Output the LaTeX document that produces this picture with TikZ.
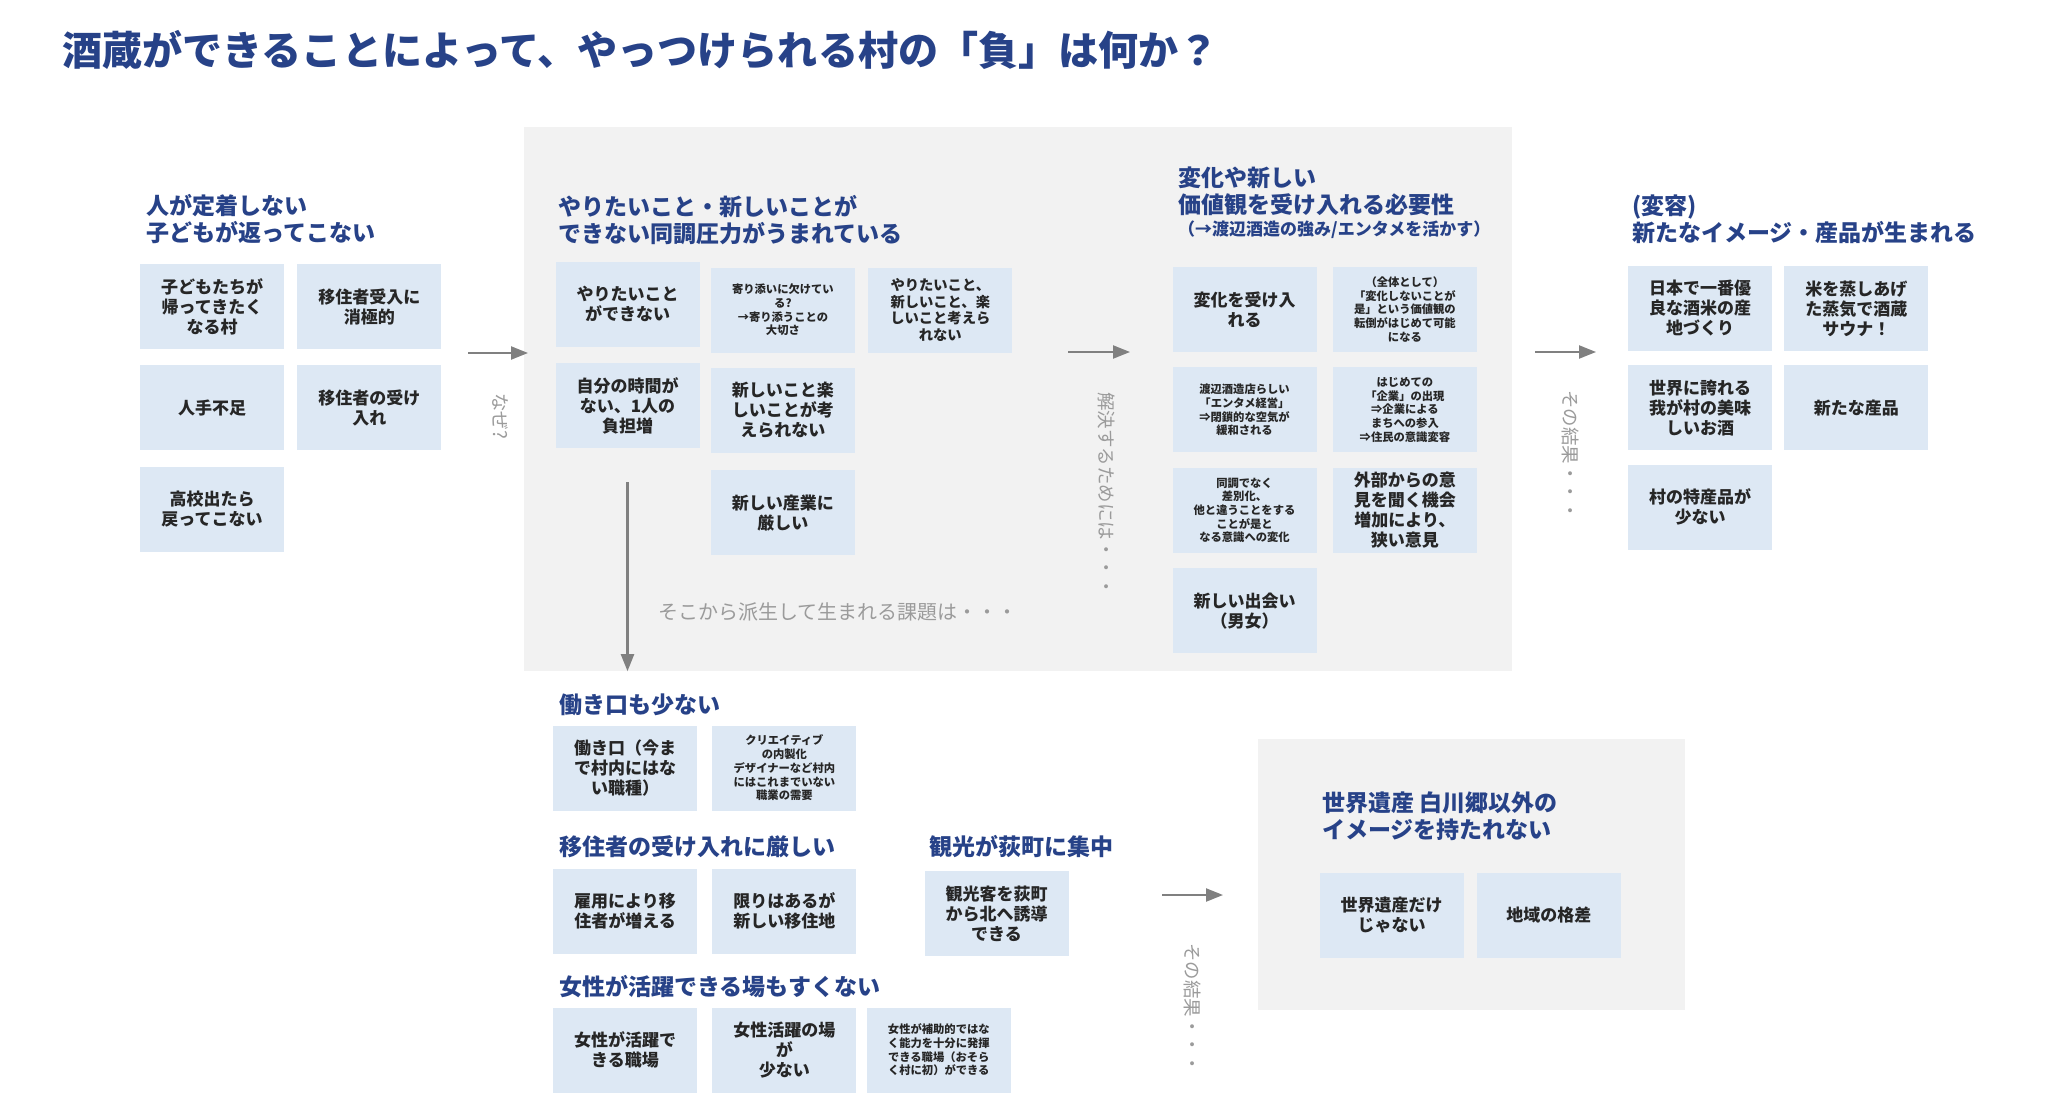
\documentclass[tikz,border=0pt]{standalone}
\usepackage{fontspec}
\setmainfont{Noto Sans CJK JP}
\usepackage{tikz}
\usetikzlibrary{positioning, arrows.meta, fit, calc}
\pgfdeclarelayer{background}
\pgfsetlayers{background,main}
\definecolor{headblue}{RGB}{39,66,136}
\definecolor{cardblue}{RGB}{221,232,244}
\definecolor{panelgray}{RGB}{242,242,242}
\definecolor{notegray}{RGB}{155,155,155}
\definecolor{flowgray}{RGB}{128,128,128}
\tikzset{
    card/.style={fill=cardblue, minimum width=144pt, minimum height=85pt, inner sep=0pt,
      align=center, text=black!85, font=\bfseries\fontsize{17pt}{20pt}\selectfont},
    cardsmall/.style={font=\bfseries\fontsize{11.3pt}{13.7pt}\selectfont},
    cardmid/.style={font=\bfseries\fontsize{14.3pt}{16.7pt}\selectfont},
    heading/.style={anchor=west, inner sep=0pt, align=left, text=headblue,
      font=\bfseries\fontsize{23pt}{27pt}\selectfont},
    sidenote/.style={anchor=west, inner sep=0pt, rotate=-90, text=notegray,
      font=\fontsize{18.5pt}{20pt}\selectfont},
    flow/.style={draw=flowgray, line width=2.2pt, -{Triangle[length=17pt, width=13pt]}},
    panel/.style={fill=panelgray, inner sep=0pt},
}

\begin{document}
\begin{tikzpicture}[x=1pt, y=-1pt]
    \useasboundingbox (0,0) rectangle (2048,1118);

    \node[anchor=west, inner sep=0pt, text=headblue, font=\bfseries\fontsize{40.1pt}{44pt}\selectfont]
      (title) at (62,50) {酒蔵ができることによって、やっつけられる村の「負」は何か？};

    \node[heading] (lhead) at (146,219) {人が定着しない\\子どもが返ってこない};
    \node[card] (l11) at (212,306.5) {子どもたちが\\帰ってきたく\\なる村};
    \node[card, right=13pt of l11] (l12) {移住者受入に\\消極的};
    \node[card, below=16pt of l11] (l21) {人手不足};
    \node[card, below=16pt of l12] (l22) {移住者の受け\\入れ};
    \node[card, below=16pt of l21] (l31) {高校出たら\\戻ってこない};

    \node[heading] (mhead) at (558,220) {やりたいこと・新しいことが\\できない同調圧力がうまれている};
    \node[card] (m11) at (627.5,304) {やりたいこと\\ができない};
    \node[card, cardsmall, right=11pt of m11, yshift=-6pt] (m12) {寄り添いに欠けてい\\る?\\→寄り添うことの\\大切さ};
    \node[card, cardmid, right=13pt of m12] (m13) {やりたいこと、\\新しいこと、楽\\しいこと考えら\\れない};
    \node[card, below=16pt of m11] (m21) {自分の時間が\\ない、1人の\\負担増};
    \node[card, below=15pt of m12] (m22) {新しいこと楽\\しいことが考\\えられない};
    \node[card, below=17pt of m22] (m32) {新しい産業に\\厳しい};
    \node[anchor=west, inner sep=0pt, text=notegray, font=\fontsize{20pt}{24pt}\selectfont]
      (mnote) at (658,612) {そこから派生して生まれる課題は・・・};

    \node[heading] (shead) at (1178,191.5) {変化や新しい\\価値観を受け入れる必要性};
    \node[heading, font=\bfseries\fontsize{17pt}{20pt}\selectfont] (ssub) at (1178,230) {（→渡辺酒造の強み/エンタメを活かす）};
    \node[card] (s11) at (1244.5,309.5) {変化を受け入\\れる};
    \node[card, cardsmall, right=16pt of s11] (s12) {（全体として）\\「変化しないことが\\是」という価値観の\\転倒がはじめて可能\\になる};
    \node[card, cardsmall, below=15pt of s11] (s21) {渡辺酒造店らしい\\「エンタメ経営」\\⇒閉鎖的な空気が\\緩和される};
    \node[card, cardsmall, below=15pt of s12] (s22) {はじめての\\「企業」の出現\\⇒企業による\\まちへの参入\\⇒住民の意識変容};
    \node[card, cardsmall, below=15pt of s21] (s31) {同調でなく\\差別化、\\他と違うことをする\\ことが是と\\なる意識への変化};
    \node[card, below=15pt of s22] (s32) {外部からの意\\見を聞く機会\\増加により、\\狭い意見};
    \node[card, below=15pt of s31] (s41) {新しい出会い\\（男女）};

    \node[heading] (thead) at (1632,219) {(変容)\\新たなイメージ・産品が生まれる};
    \node[card] (t11) at (1700,308.5) {日本で一番優\\良な酒米の産\\地づくり};
    \node[card, right=12pt of t11] (t12) {米を蒸しあげ\\た蒸気で酒蔵\\サウナ！};
    \node[card, below=14pt of t11] (t21) {世界に誇れる\\我が村の美味\\しいお酒};
    \node[card, below=14pt of t12] (t22) {新たな産品};
    \node[card, below=14pt of t21] (t31) {村の特産品が\\少ない};

    \node[heading] (whead) at (559,705) {働き口も少ない};
    \node[card] (w1) at (625,768) {働き口（今ま\\で村内にはな\\い職種）};
    \node[card, cardsmall, right=15pt of w1] (w2) {クリエイティブ\\の内製化\\デザイナーなど村内\\にはこれまでいない\\職業の需要};
    \node[heading] (ihead) at (559,847) {移住者の受け入れに厳しい};
    \node[card] (i1) at (625,911) {雇用により移\\住者が増える};
    \node[card, right=15pt of i1] (i2) {限りはあるが\\新しい移住地};
    \node[heading] (khead) at (929,847) {観光が荻町に集中};
    \node[card] (k1) at (996.5,913.5) {観光客を荻町\\から北へ誘導\\できる};
    \node[heading] (fhead) at (559,987) {女性が活躍できる場もすくない};
    \node[card] (f1) at (625,1050) {女性が活躍で\\きる職場};
    \node[card, right=15pt of f1] (f2) {女性活躍の場\\が\\少ない};
    \node[card, cardsmall, right=10pt of f2] (f3) {女性が補助的ではな\\く能力を十分に発揮\\できる職場（おそら\\く村に初）ができる};

    \node[heading] (hhead) at (1322,816.5) {世界遺産 白川郷以外の\\イメージを持たれない};
    \node[card] (h1) at (1391.5,915) {世界遺産だけ\\じゃない};
    \node[card, right=13pt of h1] (h2) {地域の格差};

    \coordinate (a1s) at (468,353);  \coordinate (a1e) at (528,353);
    \coordinate (a2s) at (1068,352); \coordinate (a2e) at (1130,352);
    \coordinate (a3s) at (1535,352); \coordinate (a3e) at (1596,352);
    \coordinate (a4s) at (1162,895); \coordinate (a4e) at (1223,895);
    \draw[flow] (a1s) -- (a1e);
    \draw[flow] (a2s) -- (a2e);
    \draw[flow] (a3s) -- (a3e);
    \draw[flow] (a4s) -- (a4e);
    \node[sidenote] (why) at (500,393) {なぜ?};
    \node[sidenote] (solve) at (1107,392) {解決するためには・・・};
    \node[sidenote] (result) at (1570,390) {その結果・・・};
    \node[sidenote] (result2) at (1192,943) {その結果・・・};

    \begin{pgfonlayer}{background}
      \fill[white] (0,0) rectangle (2048,1118);
      \coordinate (c1a) at (524,127); \coordinate (c1b) at (1512,671);
      \node[panel, fit=(c1a) (c1b)] (core) {};
      \coordinate (c2a) at (1258,739); \coordinate (c2b) at (1685,1010);
      \node[panel, fit=(c2a) (c2b)] (heritage) {};
    \end{pgfonlayer}

    \draw[flow] ([yshift=-34pt]m21.south) -- (m21.south |- core.south);

  \end{tikzpicture}
\end{document}
